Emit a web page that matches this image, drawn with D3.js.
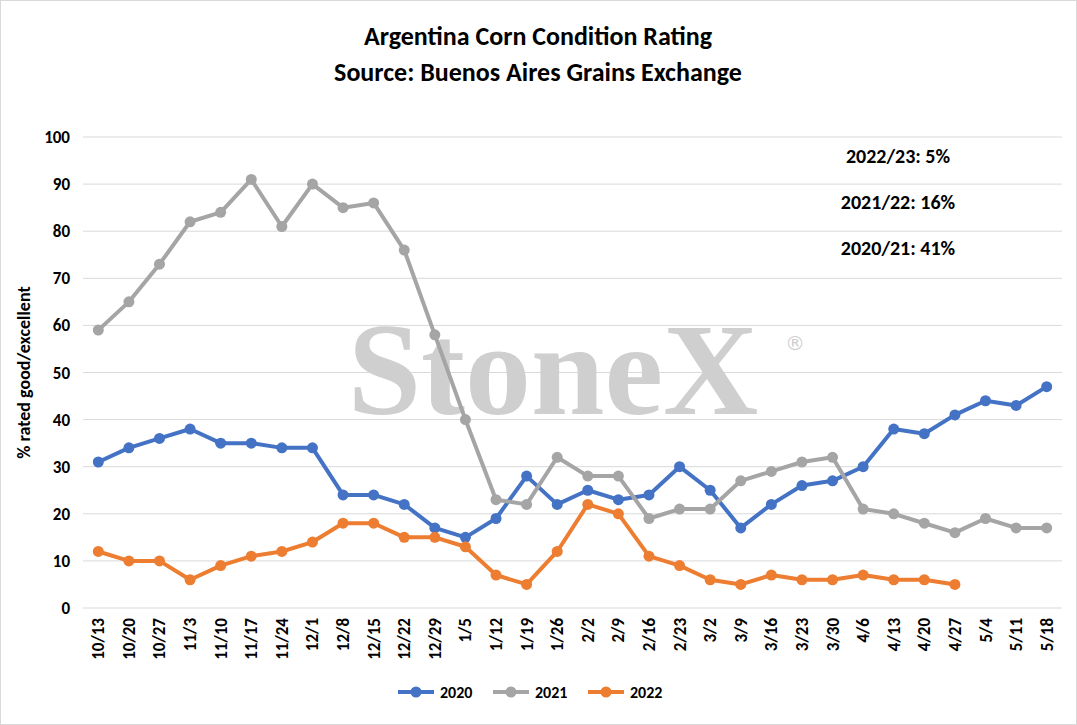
<!DOCTYPE html>
<html>
<head>
<style>
	body { margin: 0; background: #fff; }
	text { font-family: Calibri, Carlito, "Liberation Sans", Arial, sans-serif; }
</style>
</head>
<body>
<svg id="chart" width="1077" height="725"></svg>
<script src="https://d3js.org/d3.v7.min.js"></script>
<script>
	// Weeks on the category axis
	const weeks = ['10/13','10/20','10/27','11/3','11/10','11/17','11/24','12/1','12/8','12/15','12/22','12/29',
		'1/5','1/12','1/19','1/26','2/2','2/9','2/16','2/23','3/2','3/9','3/16','3/23','3/30','4/6','4/13','4/20','4/27','5/4','5/11','5/18']

	// % rated good/excellent per season
	const s2020 = [31,34,36,38,35,35,34,34,24,24,22,17,15,19,28,22,25,23,24,30,25,17,22,26,27,30,38,37,41,44,43,47]
	const s2021 = [59,65,73,82,84,91,81,90,85,86,76,58,40,23,22,32,28,28,19,21,21,27,29,31,32,21,20,18,16,19,17,17]
	const s2022 = [12,10,10,6,9,11,12,14,18,18,15,15,13,7,5,12,22,20,11,9,6,5,7,6,6,7,6,6,5,null,null,null]

	const yTicks = [0,10,20,30,40,50,60,70,80,90,100]
	const notes = ['2022/23: 5%', '2021/22: 16%', '2020/21: 41%']

	const series = [
		{ name: '2020', values: s2020, color: '#4472C4' },
		{ name: '2021', values: s2021, color: '#A5A5A5' },
		{ name: '2022', values: s2022, color: '#ED7D31' }
	]

	const svg = d3.select('#chart')
	svg.append('rect').attr('x', 0.5).attr('y', 0.5).attr('width', 1076).attr('height', 724)
		.attr('fill', '#fff').attr('stroke', '#d9d9d9')

	const pLeft = 83, pRight = 1062, pTop = 137, pBottom = 608

	const x = d3.scaleBand().domain(weeks).range([pLeft, pRight])
	const y = d3.scaleLinear().domain([0, 100]).range([pBottom, pTop])

	// Title
	svg.append('text').attr('x', 538).attr('y', 45).attr('text-anchor', 'middle')
		.attr('font-size', 26).attr('font-weight', 'bold').text('Argentina Corn Condition Rating')
	svg.append('text').attr('x', 538).attr('y', 81).attr('text-anchor', 'middle')
		.attr('font-size', 26).attr('font-weight', 'bold').text('Source: Buenos Aires Grains Exchange')

	// Gridlines
	svg.append('g').selectAll('line').data(yTicks.slice(1)).enter().append('line')
		.attr('x1', pLeft).attr('x2', pRight)
		.attr('y1', d => y(d)).attr('y2', d => y(d))
		.attr('stroke', '#d9d9d9')

	// Y axis labels
	svg.append('g').selectAll('text').data(yTicks).enter().append('text')
		.attr('x', 70).attr('y', d => y(d) + 6).attr('text-anchor', 'end')
		.attr('font-size', 17).attr('font-weight', 'bold').attr('fill', '#000').text(d => d)

	svg.append('text').attr('transform', 'translate(30,' + (pTop + pBottom) / 2 + ') rotate(-90)')
		.attr('text-anchor', 'middle').attr('font-size', 18).attr('font-weight', 'bold').text('% rated good/excellent')

	// X axis
	svg.append('line').attr('x1', pLeft).attr('x2', pRight).attr('y1', pBottom).attr('y2', pBottom).attr('stroke', '#d9d9d9')
	svg.append('g').selectAll('text').data(weeks).enter().append('text')
		.attr('transform', d => 'translate(' + (x(d) + x.bandwidth() / 2 + 6) + ',' + (pBottom + 10) + ') rotate(-90)')
		.attr('text-anchor', 'end').attr('font-size', 17).attr('font-weight', 'bold').text(d => d)

	// Watermark
	svg.append('text').attr('x', 553).attr('y', 414).attr('text-anchor', 'middle')
		.style('font-family', '"Liberation Serif", "DejaVu Serif", serif').attr('font-size', 132)
		.attr('font-weight', 'bold').attr('fill', '#cfcfcf').text('StoneX')
	svg.append('text').attr('x', 785).attr('y', 350).style('font-family', '"DejaVu Sans", sans-serif')
		.attr('font-size', 20).attr('fill', '#cfcfcf').text('®')

	// Lines
	const line = d3.line()
		.defined(d => d != null)
		.x((d, i) => x(weeks[i]) + x.bandwidth() / 2)
		.y(d => y(d))

	series.forEach(s => {
		svg.append('path').datum(s.values).attr('d', line)
			.attr('fill', 'none').attr('stroke', s.color).attr('stroke-width', 4).attr('stroke-linejoin', 'round')
		svg.append('g').selectAll('circle').data(s.values.map((v, i) => [v, i]).filter(d => d[0] != null))
			.enter().append('circle')
			.attr('cx', d => x(weeks[d[1]]) + x.bandwidth() / 2)
			.attr('cy', d => y(d[0]))
			.attr('r', 5.5).attr('fill', s.color)
	})

	// Notes
	svg.append('g').selectAll('text').data(notes).enter().append('text')
		.attr('x', 898).attr('y', (d, i) => 163 + i * 46).attr('text-anchor', 'middle')
		.attr('font-size', 20).attr('font-weight', 'bold').text(d => d)

	// Legend
	const lg = svg.append('g').selectAll('g').data(series).enter().append('g')
		.attr('transform', (d, i) => 'translate(' + (398 + i * 95) + ',692)')
	lg.append('line').attr('x1', 0).attr('x2', 36).attr('stroke', d => d.color).attr('stroke-width', 4)
	lg.append('circle').attr('cx', 18).attr('r', 5.5).attr('fill', d => d.color)
	lg.append('text').attr('x', 42).attr('y', 6).attr('font-size', 16).attr('font-weight', 'bold').text(d => d.name)
</script>
</body>
</html>
